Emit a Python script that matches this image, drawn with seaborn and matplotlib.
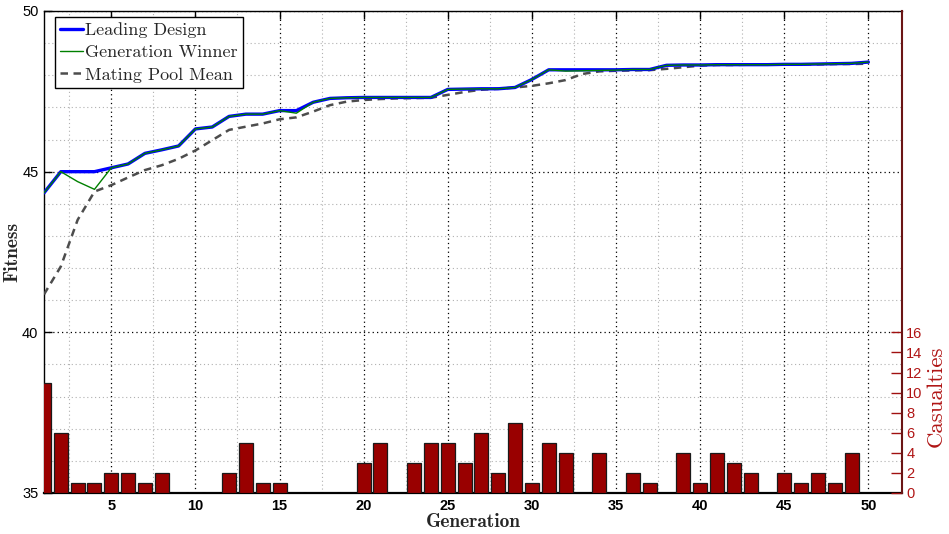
import numpy as np
import pandas as pd
import matplotlib
matplotlib.use("Agg")
import matplotlib.pyplot as plt
import seaborn as sns
from matplotlib.ticker import MultipleLocator

generations = list(range(1, 51))

leading_design = [44.34, 45.00, 45.00, 45.00, 45.12, 45.24, 45.57, 45.68, 45.80, 46.33,
                  46.39, 46.72, 46.79, 46.79, 46.90, 46.90, 47.16, 47.28, 47.30, 47.31,
                  47.31, 47.31, 47.31, 47.31, 47.56, 47.57, 47.58, 47.58, 47.62, 47.87,
                  48.17, 48.17, 48.17, 48.17, 48.17, 48.18, 48.18, 48.31, 48.32, 48.32,
                  48.33, 48.33, 48.33, 48.33, 48.34, 48.34, 48.35, 48.36, 48.37, 48.41]

generation_winner = [44.34, 45.00, 44.69, 44.45, 45.12, 45.24, 45.57, 45.68, 45.80, 46.33,
                     46.39, 46.72, 46.79, 46.79, 46.90, 46.82, 47.16, 47.28, 47.30, 47.31,
                     47.31, 47.31, 47.31, 47.31, 47.56, 47.57, 47.58, 47.58, 47.62, 47.87,
                     48.17, 48.13, 48.14, 48.15, 48.16, 48.18, 48.18, 48.31, 48.32, 48.32,
                     48.33, 48.33, 48.33, 48.33, 48.34, 48.34, 48.35, 48.36, 48.37, 48.41]

mating_pool_mean = [41.18, 42.05, 43.50, 44.38, 44.58, 44.82, 45.05, 45.20, 45.40, 45.66,
                    45.98, 46.30, 46.40, 46.50, 46.63, 46.69, 46.87, 47.07, 47.18, 47.23,
                    47.26, 47.28, 47.29, 47.30, 47.39, 47.48, 47.55, 47.58, 47.62, 47.67,
                    47.75, 47.85, 48.04, 48.12, 48.14, 48.15, 48.16, 48.20, 48.25, 48.30,
                    48.32, 48.32, 48.33, 48.33, 48.33, 48.34, 48.34, 48.35, 48.35, 48.36]

casualties = [11, 6, 1, 1, 2, 2, 1, 2, 0, 0,
              0, 2, 5, 1, 1, 0, 0, 0, 0, 3,
              5, 0, 3, 5, 5, 3, 6, 2, 7, 1,
              5, 4, 0, 4, 0, 2, 1, 0, 4, 1,
              4, 3, 2, 0, 2, 1, 2, 1, 4, 0]

x_ticks = [5, 10, 15, 20, 25, 30, 35, 40, 45, 50]
y_ticks = [35, 40, 45, 50]
cas_ticks = [0, 2, 4, 6, 8, 10, 12, 14, 16]

sns.set_theme(style="white")
plt.rcParams['font.family'] = ['Liberation Sans', 'DejaVu Sans']

df = pd.DataFrame({"Generation": generations, "Leading Design": leading_design,
                   "Generation Winner": generation_winner,
                   "Mating Pool Mean": mating_pool_mean, "Casualties": casualties})

fig = plt.figure(figsize=(9.49, 5.34), dpi=100)
ax = fig.add_axes([44/949, 41/534, 858/949, 482/534])
ax2 = ax.twinx()

# grid
ax.set_xlim(1, 52)
ax.set_ylim(35, 50)
ax.xaxis.set_major_locator(MultipleLocator(5))
ax.xaxis.set_minor_locator(MultipleLocator(2.5))
ax.yaxis.set_major_locator(MultipleLocator(5))
ax.yaxis.set_minor_locator(MultipleLocator(1))
ax.grid(which='major', color='black', linestyle=(0, (1, 2.5)), linewidth=0.9)
ax.grid(which='minor', color='#b0b0b0', linestyle=(0, (1, 2.5)), linewidth=0.8)
ax.set_axisbelow(True)

sns.lineplot(data=df, x="Generation", y="Mating Pool Mean", ax=ax, color='#4d4d4d',
             linewidth=1.8, linestyle=(0, (3, 2.2)), label="Mating Pool Mean", zorder=3)
sns.lineplot(data=df, x="Generation", y="Leading Design", ax=ax, color='#0000ff',
             linewidth=2.4, label="Leading Design", zorder=4)
sns.lineplot(data=df, x="Generation", y="Generation Winner", ax=ax, color='#008000',
             linewidth=1.0, label="Generation Winner", zorder=5)

ax.set_xticks(x_ticks)
ax.set_yticks(y_ticks)
ax.tick_params(axis='both', which='major', direction='in', length=6, width=1,
               top=True, right=False, labelsize=10.5, colors='black', pad=4)
ax.tick_params(axis='both', which='minor', length=0)
for lab in ax.get_xticklabels():
    lab.set_fontweight('bold')
ax.set_xlabel("Generation", fontfamily='cmb10', fontsize=14, labelpad=0)
ax.set_ylabel("Fitness", fontfamily='cmb10', fontsize=14)
ax.yaxis.set_label_coords(-23/858, 0.5)
for s in ['left', 'top']:
    ax.spines[s].set_color('black')
    ax.spines[s].set_linewidth(1.0)
ax.spines['bottom'].set_color('black')
ax.spines['bottom'].set_linewidth(1.6)
ax.spines['right'].set_visible(False)

handles, labels = ax.get_legend_handles_labels()
order = [labels.index(n) for n in ["Leading Design", "Generation Winner", "Mating Pool Mean"]]
leg = ax.legend([handles[i] for i in order], [labels[i] for i in order],
                loc='upper left', bbox_to_anchor=(11/858, 1 - 6/482),
                prop={'family': 'cmr10', 'size': 13}, frameon=True, fancybox=False,
                framealpha=1, edgecolor='black', handlelength=1.25, handletextpad=0.1,
                labelspacing=0.36, borderpad=0.3, borderaxespad=0)
leg.get_frame().set_linewidth(1.0)

# casualties bars
sns.barplot(data=df, x="Generation", y="Casualties", ax=ax2, native_scale=True,
            color='#990000', saturation=1, width=0.83, edgecolor='#1a1a1a', linewidth=0.9)
ax2.set_xlim(1, 52)
ax2.set_ylim(0, 48)
ax2.set_yticks(cas_ticks)
ax2.tick_params(axis='y', direction='in', length=8, width=1, colors='#a01010',
                labelcolor='#b01515', labelsize=10.5, pad=3)
ax2.set_ylabel("Casualties", fontfamily='cmr10', fontsize=16.5, color='#b01515')
ax2.yaxis.set_label_coords(1.028, 0.20)
ax2.spines['right'].set_color('#6b1515')
ax2.spines['right'].set_linewidth(1.5)
for s in ['left', 'top', 'bottom']:
    ax2.spines[s].set_visible(False)
ax2.grid(False)
ax2.set_xlabel("")

fig.savefig("out.png", dpi=100)
